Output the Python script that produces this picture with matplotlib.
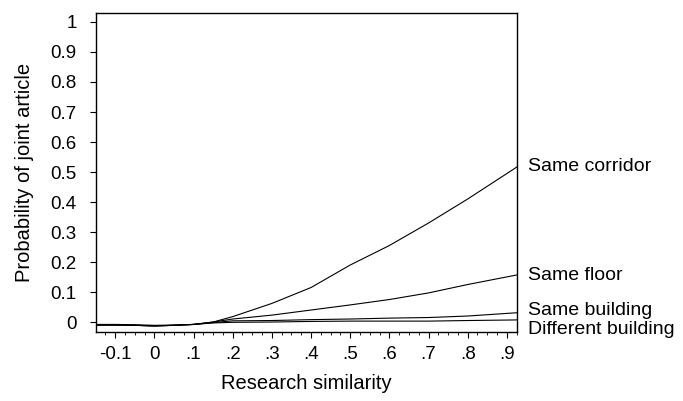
import numpy as np
from matplotlib import pyplot as plt
from matplotlib.ticker import MultipleLocator

plt.rcParams['font.family'] = ['Liberation Sans', 'DejaVu Sans']

similarity = [-0.15, -0.1, -0.05, 0.0, 0.05, 0.1, 0.15, 0.2, 0.3, 0.4, 0.5, 0.6, 0.7, 0.8, 0.926]
same_corridor = [-0.01, -0.01, -0.011, -0.013, -0.011, -0.008, 0.0, 0.018, 0.062, 0.115, 0.19, 0.255, 0.33, 0.41, 0.517]
same_floor = [-0.01, -0.01, -0.011, -0.013, -0.011, -0.008, 0.0, 0.01, 0.023, 0.04, 0.057, 0.075, 0.097, 0.125, 0.157]
same_building = [-0.01, -0.01, -0.011, -0.013, -0.011, -0.008, -0.002, 0.004, 0.005, 0.008, 0.01, 0.013, 0.015, 0.02, 0.031]
different_building = [-0.008, -0.008, -0.009, -0.011, -0.01, -0.008, -0.003, -0.001, 0.0, 0.002, 0.003, 0.003, 0.003, 0.005, 0.007]

series = [("Same corridor", same_corridor, 0.517),
          ("Same floor", same_floor, 0.155),
          ("Same building", same_building, 0.04),
          ("Different building", different_building, -0.025)]

fig = plt.figure(figsize=(6.83, 4.01), dpi=100)
ax = fig.add_axes([0.1406, 0.173, 0.6164, 0.7946])

for name, vals, ylab in series:
    ax.plot(similarity, vals, color='black', lw=0.8)
    ax.annotate(name, xy=(0.926, ylab), xytext=(8, 0), textcoords='offset points',
                ha='left', va='center', fontsize=14, annotation_clip=False)

ax.set_xlim(-0.149, 0.926)
ax.set_ylim(-0.032, 1.03)
ax.set_xticks([-0.1, 0, 0.1, 0.2, 0.3, 0.4, 0.5, 0.6, 0.7, 0.8, 0.9])
ax.set_xticklabels(['-0.1', '0', '.1', '.2', '.3', '.4', '.5', '.6', '.7', '.8', '.9'])
ax.set_yticks(np.arange(0, 1.01, 0.1))
ax.set_yticklabels(['0', '0.1', '0.2', '0.3', '0.4', '0.5', '0.6', '0.7', '0.8', '0.9', '1'])
ax.xaxis.set_minor_locator(MultipleLocator(0.025))
ax.tick_params(labelsize=13.5, direction='out', length=4, width=0.8)
ax.tick_params(which='minor', length=2, width=0.6)
ax.tick_params(axis='y', pad=10)
ax.tick_params(axis='x', pad=6)
for s in ax.spines.values():
    s.set_linewidth(1.0)

ax.set_xlabel("Research similarity", fontsize=14.5, labelpad=8)
ax.set_ylabel("Probability of joint article", fontsize=14.5, labelpad=12)

plt.savefig('out.png')
